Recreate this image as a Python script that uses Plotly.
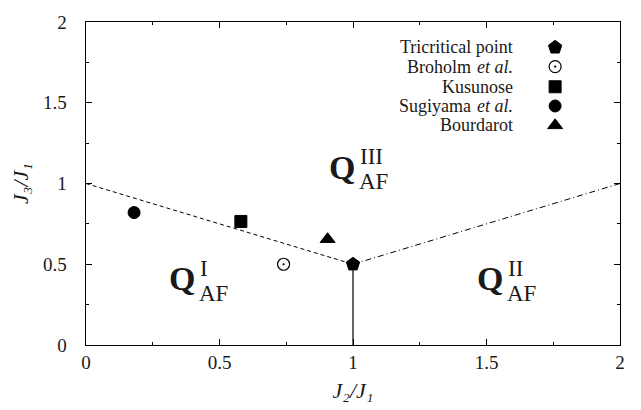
import plotly.graph_objects as go

# Phase boundaries
dash_x = [0, 1]
dash_y = [1, 0.5]
dashdot_x = [1, 2]
dashdot_y = [0.5, 1]
solid_x = [1, 1]
solid_y = [0, 0.5]

# Data points
series_names = ["Tricritical point", "Broholm", "Kusunose", "Sugiyama", "Bourdarot"]
series_etal = [False, True, False, True, False]
series_x = [1.0, 0.74, 0.58, 0.18, 0.905]
series_y = [0.5, 0.50, 0.765, 0.82, 0.655]
series_symbols = ["pentagon", "circle-dot", "square", "circle", "triangle-up"]
series_sizes = [14, 12, 12, 12, 13]

# Legend placement (data coordinates)
legend_text_x = 1.607
legend_sym_x = 1.757
legend_y = [1.843, 1.724, 1.599, 1.48, 1.36]

# Region labels: Q right edge, vertical middle
region_sup = ["I", "II", "III"]
region_x = [0.416, 1.569, 1.015]
region_y = [0.423, 0.423, 1.113]

FONT = "Liberation Serif"

fig = go.Figure()
fig.add_trace(go.Scatter(x=dash_x, y=dash_y, mode="lines",
                         line=dict(color="black", width=1, dash="4px,3px"),
                         showlegend=False, hoverinfo="skip"))
fig.add_trace(go.Scatter(x=dashdot_x, y=dashdot_y, mode="lines",
                         line=dict(color="black", width=1, dash="6px,3px,1px,3px"),
                         showlegend=False, hoverinfo="skip"))
fig.add_trace(go.Scatter(x=solid_x, y=solid_y, mode="lines",
                         line=dict(color="black", width=1.2),
                         showlegend=False, hoverinfo="skip"))

for name, etal, x, y, sym, sz, ly in zip(series_names, series_etal, series_x, series_y,
                                         series_symbols, series_sizes, legend_y):
    mk = dict(symbol=sym, size=sz, color="black",
              line=dict(color="black", width=1))
    if sym == "circle-dot":
        mk = dict(symbol="circle-dot", size=sz, color="white",
                  line=dict(color="black", width=1.2))
    fig.add_trace(go.Scatter(x=[x, legend_sym_x], y=[y, ly], mode="markers",
                             marker=mk, name=name, showlegend=False))
    shift = 0
    if etal:
        fig.add_annotation(x=legend_text_x, y=ly, text="et al.", showarrow=False,
                           xanchor="right", yanchor="middle",
                           font=dict(family=FONT, size=18, style="italic"))
        shift = -42
    fig.add_annotation(x=legend_text_x, y=ly, text=name, showarrow=False,
                       xanchor="right", yanchor="middle", xshift=shift,
                       font=dict(family=FONT, size=18))

for sup, x, y in zip(region_sup, region_x, region_y):
    fig.add_annotation(x=x, y=y, text="Q", showarrow=False,
                       xanchor="right", yanchor="middle", yshift=-2,
                       font=dict(family=FONT, size=34, weight="bold"))
    fig.add_annotation(x=x, y=y, text=sup, showarrow=False,
                       xanchor="left", yanchor="bottom", xshift=1, yshift=-6,
                       font=dict(family=FONT, size=23))
    fig.add_annotation(x=x, y=y, text="AF", showarrow=False,
                       xanchor="left", yanchor="top", xshift=0, yshift=-2,
                       font=dict(family=FONT, size=23))

axis_common = dict(showgrid=False, zeroline=False, showline=True,
                   linecolor="black", linewidth=1.2, mirror="ticks",
                   ticks="inside", ticklen=6, tickcolor="black", tickwidth=1,
                   dtick=0.5, tickformat="~g",
                   minor=dict(ticks="inside", ticklen=3, dtick=0.25,
                              tickcolor="black", tickwidth=1),
                   tickfont=dict(family=FONT, size=19))

fig.update_xaxes(range=[0, 2],
                 title=dict(text="J\u2082/J\u2081",
                            font=dict(family=FONT, size=22, style="italic"),
                            standoff=10),
                 **axis_common)
fig.update_yaxes(range=[0, 2], ticksuffix="   ",
                 title=dict(text="J\u2083/J\u2081",
                            font=dict(family=FONT, size=22, style="italic"),
                            standoff=8),
                 **axis_common)

fig.update_layout(width=641, height=410, paper_bgcolor="white",
                  plot_bgcolor="white", showlegend=False,
                  font=dict(family=FONT, color="#1a1a1a"),
                  margin=dict(l=86, r=21, t=17, b=57))

fig.write_html("out.html")
